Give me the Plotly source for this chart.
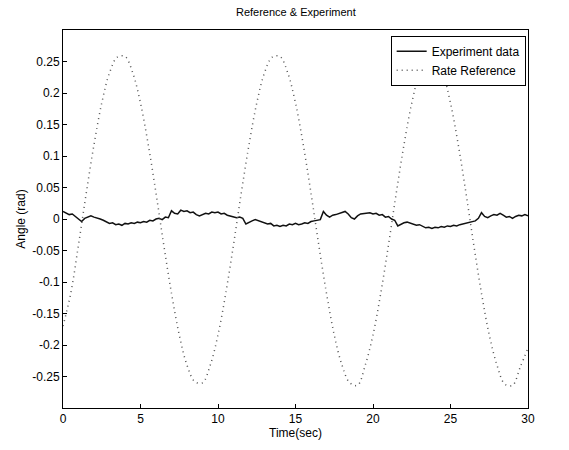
import plotly.graph_objects as go

# Rate reference (dotted), read every 0.5 s
ref_t = [i * 0.5 for i in range(61)]
ref_y = [-0.170, -0.118, -0.041, 0.041, 0.118, 0.184, 0.232, 0.257, 0.258, 0.232,
         0.184, 0.118, 0.041, -0.041, -0.118, -0.184, -0.232, -0.258, -0.260, -0.232,
         -0.184, -0.118, -0.041, 0.041, 0.118, 0.184, 0.232, 0.257, 0.258, 0.232,
         0.184, 0.118, 0.041, -0.041, -0.118, -0.184, -0.232, -0.260, -0.264, -0.232,
         -0.184, -0.118, -0.041, 0.041, 0.118, 0.184, 0.232, 0.257, 0.258, 0.232,
         0.184, 0.118, 0.041, -0.041, -0.118, -0.184, -0.232, -0.262, -0.264, -0.235,
         -0.205]

# Experiment data (solid), read every 0.2 s
exp_t = [round(i * 0.2, 1) for i in range(151)]
exp_y = [0.012, 0.010, 0.007, 0.008, 0.004, 0.001, -0.004, 0.001, 0.003, 0.005,
         0.003, 0.002, 0.000, -0.002, -0.005, -0.007, -0.006, -0.009, -0.008, -0.010,
         -0.007, -0.008, -0.006, -0.007, -0.005, -0.006, -0.004, -0.005, -0.002, -0.003,
         0.000, 0.001, -0.001, 0.003, 0.002, 0.013, 0.009, 0.008, 0.014, 0.012,
         0.013, 0.010, 0.011, 0.007, 0.005, 0.007, 0.009, 0.008, 0.011, 0.010,
         0.011, 0.008, 0.009, 0.006, 0.005, 0.003, 0.002, 0.003, 0.001, -0.008,
         -0.005, -0.003, -0.001, -0.003, -0.004, -0.006, -0.008, -0.007, -0.011, -0.010,
         -0.012, -0.010, -0.011, -0.008, -0.009, -0.007, -0.009, -0.008, -0.006, -0.007,
         -0.004, -0.003, -0.002, -0.001, 0.012, 0.006, 0.003, 0.006, 0.007, 0.009,
         0.010, 0.012, 0.008, 0.002, 0.000, 0.005, 0.008, 0.009, 0.010, 0.010,
         0.008, 0.009, 0.006, 0.007, 0.003, 0.004, 0.000, -0.002, -0.011, -0.008,
         -0.006, -0.005, -0.007, -0.008, -0.010, -0.009, -0.012, -0.014, -0.013, -0.015,
         -0.013, -0.014, -0.012, -0.013, -0.011, -0.012, -0.010, -0.011, -0.009, -0.008,
         -0.007, -0.005, -0.004, -0.003, 0.001, 0.010, 0.004, 0.002, 0.005, 0.007,
         0.006, 0.009, 0.006, 0.003, 0.004, 0.001, 0.004, 0.006, 0.005, 0.007,
         0.005]

x_ticks = [0, 5, 10, 15, 20, 25, 30]
x_labels = ["0", "5", "10", "15", "20", "25", "30"]
y_ticks = [0.25, 0.2, 0.15, 0.1, 0.05, 0, -0.05, -0.1, -0.15, -0.2, -0.25]
y_labels = ["0.25", "0.2", "0.15", "0.1", "0.05", "0", "-0.05", "-0.1", "-0.15", "-0.2", "-0.25"]

FONT = "Liberation Sans, Arial, sans-serif"

fig = go.Figure()
fig.add_trace(go.Scatter(x=exp_t, y=exp_y, mode="lines", name="Experiment data",
                         line=dict(color="#111111", width=1.5)))
fig.add_trace(go.Scatter(x=ref_t, y=ref_y, mode="lines", name="Rate Reference",
                         line=dict(color="#555555", width=1.5, dash="1px,4px", shape="spline")))

axis_common = dict(showline=True, mirror=True, linecolor="black", linewidth=1,
                   ticks="inside", ticklen=4, tickcolor="black", showgrid=False,
                   zeroline=False, tickfont=dict(family=FONT, size=12, color="black"))

fig.update_layout(
    width=569, height=450,
    margin=dict(l=63, r=41, t=30, b=42),
    paper_bgcolor="white", plot_bgcolor="white",
    font=dict(family=FONT, size=12, color="black"),
    title=dict(text="Reference & Experiment", x=0.52, xanchor="center", y=0.972, yanchor="middle",
               font=dict(family=FONT, size=11, color="black")),
    xaxis=dict(range=[0, 30], tickvals=x_ticks, ticktext=x_labels,
               title=dict(text="Time(sec)", font=dict(family=FONT, size=12), standoff=2),
               **axis_common),
    yaxis=dict(range=[-0.3, 0.3], tickvals=y_ticks, ticktext=y_labels,
               title=dict(text="Angle (rad)", font=dict(family=FONT, size=12), standoff=4),
               **axis_common),
    legend=dict(x=0.995, y=0.985, xanchor="right", yanchor="top",
                bordercolor="black", borderwidth=1, bgcolor="white",
                font=dict(family=FONT, size=12), tracegroupgap=0,
                itemwidth=30),
    showlegend=True,
)

fig.write_html("out.html")
